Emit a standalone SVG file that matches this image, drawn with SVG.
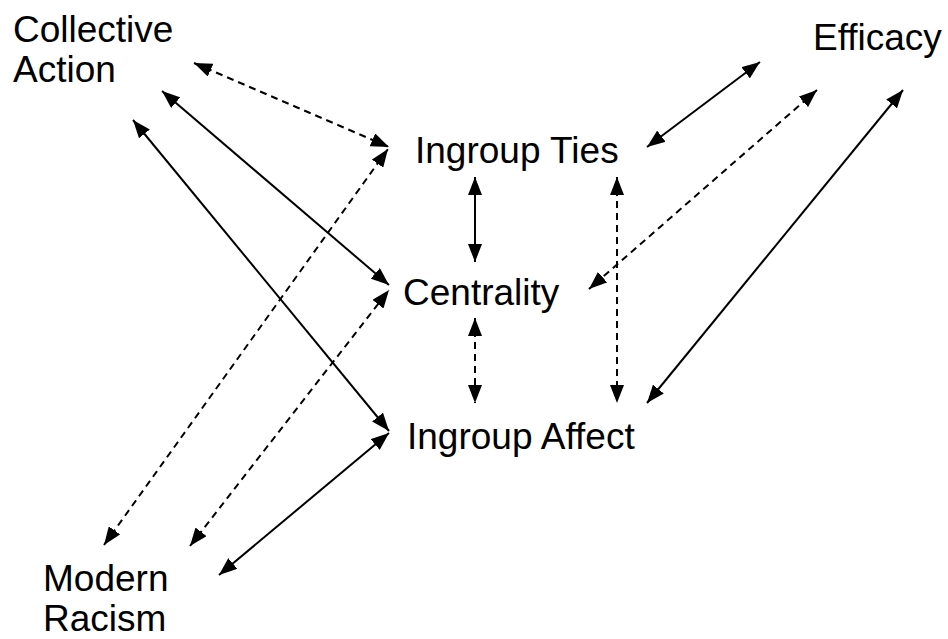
<svg xmlns="http://www.w3.org/2000/svg" width="948" height="639" viewBox="0 0 948 639">
<style>
.t{font-family:"Liberation Sans",Arial,sans-serif;font-size:37px;fill:#000}
.c{stroke:#000;stroke-width:2;fill:none;marker-start:url(#ah);marker-end:url(#ah)}
.d{stroke-dasharray:7 5}
</style>
<defs>
<marker id="ah" viewBox="0 0 18 14" refX="18" refY="7" markerWidth="18" markerHeight="14" markerUnits="userSpaceOnUse" orient="auto-start-reverse">
<path d="M0,0 L18,7 L0,14 z" fill="#000"/>
</marker>
</defs>
<rect width="948" height="639" fill="#fff"/>
<g id="connectors">
<line class="c d" x1="194" y1="63" x2="389" y2="147"/>
<line class="c" x1="162" y1="91" x2="389" y2="285"/>
<line class="c" x1="133" y1="120" x2="389" y2="431"/>
<line class="c d" x1="104" y1="545" x2="388" y2="149"/>
<line class="c d" x1="190" y1="546" x2="389" y2="290"/>
<line class="c" x1="219" y1="575" x2="389" y2="433"/>
<line class="c" x1="760" y1="62" x2="647" y2="147"/>
<line class="c d" x1="817" y1="90" x2="589" y2="289"/>
<line class="c" x1="903" y1="90" x2="647" y2="403"/>
<line class="c" x1="475" y1="177" x2="475" y2="262"/>
<line class="c d" x1="475" y1="318" x2="475" y2="403"/>
<line class="c d" x1="617" y1="177" x2="617" y2="403"/>
</g>
<g id="collective-action"><text class="t" x="13" y="42">Collective</text><text class="t" x="13" y="82">Action</text></g>
<g id="efficacy"><text class="t" x="813" y="50">Efficacy</text></g>
<g id="ingroup-ties"><text class="t" x="415" y="163">Ingroup Ties</text></g>
<g id="centrality"><text class="t" x="403" y="305">Centrality</text></g>
<g id="ingroup-affect"><text class="t" x="407" y="449">Ingroup Affect</text></g>
<g id="modern-racism"><text class="t" x="43" y="591">Modern</text><text class="t" x="43" y="631">Racism</text></g>
</svg>
